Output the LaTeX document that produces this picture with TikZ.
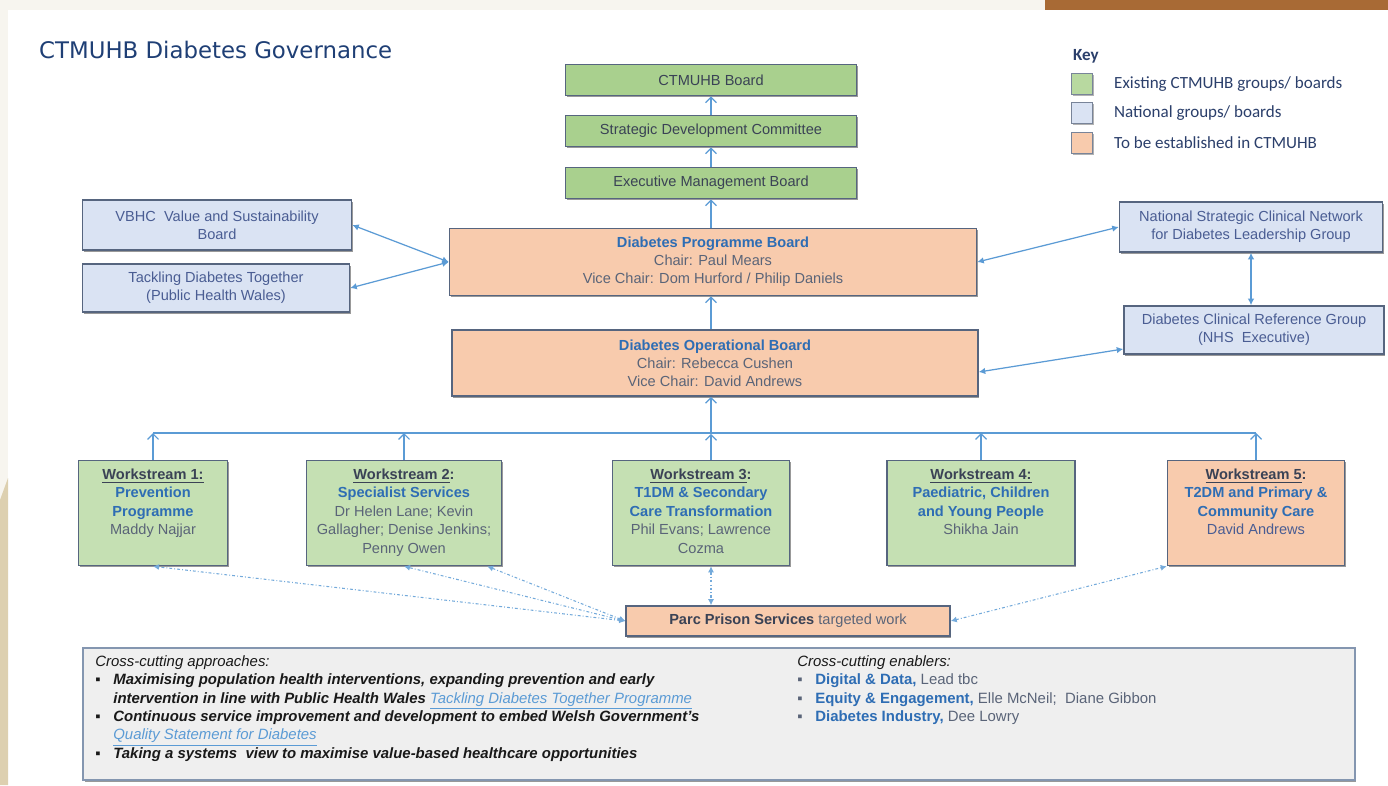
\documentclass[tikz,border=0pt]{standalone}
\usepackage{fontspec}
\setmainfont{Liberation Sans}
\newfontfamily\titlefont{DejaVu Sans}
\newfontfamily\keyfont{Carlito}
\usepackage{xcolor}
\usepackage{tikz}
\usetikzlibrary{arrows.meta,positioning,calc,shadows}

\definecolor{titleblue}{HTML}{1F3F75}
\definecolor{keyc}{HTML}{2B3F6B}
\definecolor{grnA}{HTML}{A9D08E}
\definecolor{grnB}{HTML}{C5E0B3}
\definecolor{grnK}{HTML}{B8D9A0}
\definecolor{org}{HTML}{F8CBAD}
\definecolor{lblue}{HTML}{DAE3F3}
\definecolor{edgec}{HTML}{56657F}
\definecolor{lnkc}{HTML}{5B9BD5}
\definecolor{txtdark}{HTML}{3A4255}
\definecolor{txtblue}{HTML}{2E6DB4}
\definecolor{txtgrey}{HTML}{5A6478}
\definecolor{sidetxt}{HTML}{4A5D93}
\definecolor{crossfill}{HTML}{EFEFEF}
\definecolor{crossedge}{HTML}{8496B0}
\definecolor{offw}{HTML}{F7F5EF}
\definecolor{brn}{HTML}{A86A35}
\definecolor{beige}{HTML}{DDD0B0}

\newcommand{\wsbox}[2]{\parbox[c][1.86cm][t]{#1}{\centering\strut #2}}
\newcommand{\blt}{\makebox[0.36cm][l]{▪}}
\newcommand{\lnk}[1]{\textcolor{lnkc}{\mdseries\itshape\underline{#1}}}

\begin{document}
\begin{tikzpicture}[x=0.02cm, y=-0.02cm,
  box/.style={draw=edgec, line width=0.9pt, align=center, inner sep=1pt,
              font=\fontsize{8.3}{10.2}\selectfont, text=txtdark,
              drop shadow={shadow xshift=0.8pt, shadow yshift=-1pt, fill=black, opacity=0.4}},
  natbox/.style={box, fill=lblue, text=sidetxt},
  ws/.style={box, inner xsep=0pt, inner ysep=0.12cm, font=\fontsize{8.3}{10.5}\selectfont},
  keysq/.style={draw=edgec!80, minimum size=0.42cm, inner sep=0pt,
              drop shadow={shadow xshift=0.6pt, shadow yshift=-0.8pt, fill=black, opacity=0.3}},
  keytxt/.style={anchor=west, font=\keyfont\fontsize{9.7}{11}\selectfont, text=keyc},
  conn/.style={draw=lnkc, line width=0.7pt},
  uparr/.style={conn, -{Straight Barb[length=1.1mm, width=2.2mm]}},
  twoway/.style={conn, {Latex[length=1.3mm, width=1.3mm]}-{Latex[length=1.3mm, width=1.3mm]}},
  dotline/.style={conn, draw=lnkc!85, line width=0.6pt, dash pattern=on 1.6pt off 1.2pt on 0.5pt off 1.2pt,
              {Latex[length=1.2mm, width=1.2mm]}-{Latex[length=1.2mm, width=1.2mm]}}]
\useasboundingbox (0,0) rectangle (1388,785);
% page background
\fill[white] (0,0) rectangle (1388,785);
\fill[offw] (0,0) rectangle (1388,10);
\fill[offw] (0,0) rectangle (8,785);
\fill[brn] (1045,0) rectangle (1388,10);
\fill[beige] (0,500) -- (8,478) -- (8,785) -- (0,785) -- cycle;

\node[anchor=west, font=\titlefont\fontsize{13}{15}\selectfont, text=titleblue] (title) at (33,50) {CTMUHB Diabetes Governance};

% key
\node[anchor=west, font=\keyfont\bfseries\fontsize{9.7}{11}\selectfont, text=keyc] (keyhd) at (1067,56) {Key};
\node[keysq, fill=grnK] (k1) at (1082,84) {};
\node[keysq, fill=lblue] (k2) at (1082,113) {};
\node[keysq, fill=org] (k3) at (1082,143) {};
\node[keytxt] (k1t) at (1108,84) {Existing CTMUHB groups/ boards};
\node[keytxt] (k2t) at (1108,113) {National groups/ boards};
\node[keytxt] (k3t) at (1108,143) {To be established in CTMUHB};

% boards
\node[box, fill=grnA, minimum width=5.82cm, minimum height=0.62cm] (brd) at (711,80) {CTMUHB Board};
\node[box, fill=grnA, minimum width=5.82cm, minimum height=0.62cm] (sdc) at (711,131) {Strategic Development Committee};
\node[box, fill=grnA, minimum width=5.82cm, minimum height=0.62cm] (emb) at (711,183) {Executive Management Board};
\node[box, fill=org, text=txtgrey, minimum width=10.54cm, minimum height=1.34cm] (dpb) at (713,262)
  {\textcolor{txtblue}{\bfseries Diabetes Programme Board}\\Chair: Paul Mears\\Vice Chair: Dom Hurford / Philip Daniels};
\node[box, fill=org, text=txtgrey, minimum width=10.52cm, minimum height=1.32cm] (dob) at (715,363)
  {\textcolor{txtblue}{\bfseries Diabetes Operational Board}\\Chair: Rebecca Cushen\\Vice Chair: David Andrews};

% national groups
\node[natbox, minimum width=5.38cm, minimum height=1.0cm] (vbhc) at (217,225) {VBHC\ \ Value and Sustainability\\Board};
\node[natbox, minimum width=5.34cm, minimum height=0.96cm] (tdt) at (216,288) {Tackling Diabetes Together\\(Public Health Wales)};
\node[natbox, minimum width=5.26cm, minimum height=1.0cm] (nscn) at (1251,227) {National Strategic Clinical Network\\for Diabetes Leadership Group};
\node[natbox, minimum width=5.2cm, minimum height=0.96cm] (dcrg) at (1254,330) {Diabetes Clinical Reference Group\\(NHS\ \ Executive)};

% workstreams
\node[ws, fill=grnB] (ws1) at (153,513) {\wsbox{2.98cm}{\bfseries\underline{Workstream 1:}\\\textcolor{txtblue}{Prevention\\Programme}\\\mdseries\textcolor{txtgrey}{Maddy Najjar}}};
\node[ws, fill=grnB] (ws2) at (404,513) {\wsbox{3.9cm}{\bfseries\underline{Workstream 2}:\\\textcolor{txtblue}{Specialist Services}\\\mdseries\textcolor{txtgrey}{Dr Helen Lane; Kevin\\Gallagher; Denise Jenkins;\\Penny Owen}}};
\node[ws, fill=grnB] (ws3) at (701,513) {\wsbox{3.54cm}{\bfseries\underline{Workstream 3}:\\\textcolor{txtblue}{T1DM \& Secondary\\Care Transformation}\\\mdseries\textcolor{txtgrey}{Phil Evans; Lawrence\\Cozma}}};
\node[ws, fill=grnB] (ws4) at (981,513) {\wsbox{3.76cm}{\bfseries\underline{Workstream 4:}\\\textcolor{txtblue}{Paediatric, Children\\and Young People}\\\mdseries\textcolor{txtgrey}{Shikha Jain}}};
\node[ws, fill=org] (ws5) at (1256,513) {\wsbox{3.54cm}{\bfseries\underline{Workstream 5}:\\\textcolor{txtblue}{T2DM and Primary \&\\Community Care}\\\mdseries\textcolor{sidetxt}{David Andrews}}};

\node[box, fill=org, minimum width=6.48cm, minimum height=0.6cm] (prison) at (788,621)
  {\textbf{Parc Prison Services} \textcolor{txtgrey}{targeted work}};

% cross-cutting box
\node[draw=crossedge, line width=1.2pt, fill=crossfill, minimum width=25.44cm, minimum height=2.64cm,
  drop shadow={shadow xshift=0.8pt, shadow yshift=-1pt, fill=black, opacity=0.4}] (cross) at (719,714) {};
\node[anchor=north west, align=left, inner sep=0pt, font=\fontsize{8.5}{10.5}\selectfont, text=black!90] (appr) at (95,655)
  {{\itshape Cross-cutting approaches:}\\
   \blt{\bfseries\itshape Maximising population health interventions, expanding prevention and early}\\
   \hspace*{0.36cm}{\bfseries\itshape intervention in line with Public Health Wales} \lnk{Tackling Diabetes Together Programme}\\
   \blt{\bfseries\itshape Continuous service improvement and development to embed Welsh Government's}\\
   \hspace*{0.36cm}\lnk{Quality Statement for Diabetes}\\
   \blt{\bfseries\itshape Taking a systems\ \ view to maximise value-based healthcare opportunities}};
\node[anchor=north west, align=left, inner sep=0pt, font=\fontsize{8.5}{10.5}\selectfont, text=txtgrey] (enab) at (797,655)
  {\textcolor{black!90}{\itshape Cross-cutting enablers:}\\
   \blt\textcolor{txtblue}{\bfseries Digital \& Data,} Lead tbc\\
   \blt\textcolor{txtblue}{\bfseries Equity \& Engagement,} Elle McNeil;\ \ Diane Gibbon\\
   \blt\textcolor{txtblue}{\bfseries Diabetes Industry,} Dee Lowry};

% reporting lines
\coordinate (bus) at (711,433);
\foreach \a/\b in {dob/dpb, dpb/emb, emb/sdc, sdc/brd} \draw[uparr] (bus |- \a.north) -- (bus |- \b.south);
\draw[conn] (ws1.north |- bus) -- (ws5.north |- bus);
\foreach \w in {ws1,ws2,ws4,ws5} \draw[uparr] (\w.north) -- (\w.north |- bus);
\draw[uparr] (bus |- ws3.north) -- ([yshift=-0.5pt]bus);
\draw[uparr] (bus) -- (bus |- dob.south);

% links to national groups
\draw[twoway] (vbhc.east) -- (dpb.west);
\draw[twoway] (tdt.east) -- (dpb.west);
\draw[twoway] (dpb.east) -- (nscn.west);
\draw[twoway] (nscn.south) -- (nscn.south |- dcrg.north);
\draw[twoway] ([yshift=-0.18cm]dob.east) -- ([yshift=-0.38cm]dcrg.west);

% prison links
\foreach \w in {ws1,ws2} \draw[dotline] (prison.west) -- (\w.south);
\draw[dotline] (prison.west) -- ([xshift=-0.3cm]ws2.south east);
\coordinate (w3b) at ([xshift=0.2cm]ws3.south);
\draw[dotline] (w3b) -- (w3b |- prison.north);
\draw[dotline] (prison.east) -- (ws5.south west);
\end{tikzpicture}
\end{document}
